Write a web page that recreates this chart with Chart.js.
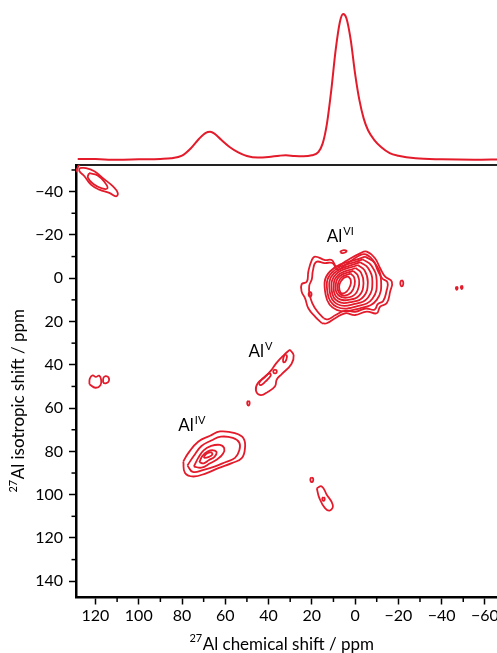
<!DOCTYPE html>
<html><head><meta charset="utf-8">
<script src="https://cdn.jsdelivr.net/npm/chart.js@4.4.1/dist/chart.umd.min.js"></script>
<style>
html,body{margin:0;padding:0;background:#fff;overflow:hidden}
#wrap{position:relative;width:497px;height:653px}
canvas{position:absolute;left:0;top:0}
</style></head><body>
<div id="wrap">
<canvas id="main" width="497" height="653"></canvas>
<canvas id="spec" width="497" height="165"></canvas>
</div>
<script>
const RED = '#e31b2b';
const FONT = 'Lato, "DejaVu Sans", sans-serif';

// ---- axis ticks ----
const xTicks = [120, 100, 80, 60, 40, 20, 0, -20, -40, -60];
const xMinor = [110, 90, 70, 50, 30, 10, -10, -30, -50];
const yTicks = [-40, -20, 0, 20, 40, 60, 80, 100, 120, 140];
const yMinor = [-50, -30, -10, 10, 30, 50, 70, 90, 110, 130];

// ---- axis titles (isotope superscript + text) ----
const xTitleSup = '27', xTitleText = 'Al chemical shift / ppm';
const yTitleSup = '27', yTitleText = 'Al isotropic shift / ppm';

// ---- 1D projection (top) ----
const specPpm = [128.2,120,110,100,90,85,80,76,72,69,67,65,62,58,54,50,45,40,35,32,28,24,20,17,15,13,11,9,7,5.5,4,2,0,-2,-4,-6,-9,-12,-16,-20,-28,-40,-55,-67];
const specInt = [0.3,0.2,-0.3,0,0.3,0.7,2.5,7.4,14.3,18.2,18.9,17.7,13.6,8.5,4.8,2.3,1.2,1.6,2.5,2.8,2.3,2.1,2.8,5.0,10.8,24.6,47.6,75,94.7,100,97,82,59,40.7,28,20,13.1,8.5,4.3,2.5,0.7,0,-0.3,0];

// ---- contours [chemical shift, isotropic shift] ----
const alVIRings = [
 [[3.1,-0.8],[2.0,0.8],[2.2,3.4],[3.9,6.2],[6.2,7.0],[7.2,5.4],[7.2,2.8],[5.4,0.0]],
 [[2.0,-2.1],[0.4,-0.3],[0.2,3.0],[1.9,6.7],[5.0,8.0],[7.4,6.7],[8.1,3.5],[6.3,-0.4]],
 [[0.9,-3.4],[-1.2,-1.4],[-1.9,2.7],[-0.1,7.3],[3.8,9.0],[7.6,8.0],[9.0,4.2],[7.2,-0.9]],
 [[-0.2,-4.7],[-2.8,-2.5],[-3.9,2.3],[-2.1,7.8],[2.6,9.9],[7.8,9.4],[9.9,4.9],[8.0,-1.3]],
 [[-1.3,-6.1],[-4.4,-3.6],[-5.9,1.9],[-4.0,8.4],[1.3,10.9],[7.9,10.7],[10.8,5.6],[8.9,-1.8]],
 [[-2.4,-7.4],[-6.0,-4.7],[-8.0,1.5],[-6.0,8.9],[0.1,11.9],[8.1,12.0],[11.7,6.3],[9.8,-2.2]],
 [[-3.5,-8.7],[-7.6,-5.8],[-10.0,1.2],[-8.0,9.5],[-1.1,12.9],[8.3,13.3],[12.7,7.0],[10.7,-2.6]],
 [[-4.6,-10.0],[-9.2,-6.9],[-12.0,0.8],[-10.0,10.0],[-2.3,13.9],[8.5,14.6],[13.6,7.7],[11.6,-3.1]]
];
const alVIOuter = [
 [[15.4,20.8],[18.5,17.7],[21.6,13.9],[23.1,9.3],[24.7,6.2],[24.7,2.8],[22.3,1.6],[21.6,-3.1],[20.0,-8.4],[18.5,-10.0],[13.9,-8.4],[10.8,-8.4],[8.5,-5.4],[4.6,-7.7],[-2.3,-11.5],[-5.4,-12.3],[-9.2,-9.2],[-11.6,-4.6],[-13.9,-0.7],[-17.0,1.6],[-16.2,6.2],[-14.6,11.6],[-11.6,13.1],[-10.0,16.2],[-5.4,15.4],[0.0,17.0],[4.6,16.2],[9.2,18.5],[13.1,20.8]],
 [[14.5,18.5],[17.5,15.3],[19.8,11.5],[21.0,7.5],[21.2,3.5],[20.0,0.5],[19.5,-3.5],[18.0,-7.5],[14.0,-7.0],[10.5,-7.0],[8.0,-4.0],[4.0,-6.5],[-2.0,-10.5],[-5.0,-11.0],[-8.5,-8.0],[-10.5,-3.5],[-12.5,0],[-15.0,2.0],[-14.5,6.0],[-13.0,10.5],[-10.5,12.0],[-9.0,14.5],[-5.0,14.0],[0.0,15.5],[4.5,15.0],[9.0,17.0],[12.5,19.0]]
];
const alVISmall = [
 [[6.8,-11.9],[5.6,-11.6],[4.2,-12.1],[4.0,-12.7],[5.2,-13.0],[6.6,-12.5]],
 [[20.8,6.2],[20.2,6.9],[20.2,7.9],[20.8,8.5],[21.4,7.9],[21.4,6.9]],
 [[-21.6,0.8],[-22.2,1.6],[-22.2,3.0],[-21.6,3.8],[-21.0,3.0],[-21.0,1.6]],
 [[-47,3.8],[-47.35,4.3],[-47.35,4.9],[-47,5.4],[-46.65,4.9],[-46.65,4.3]],
 [[-49.3,3.4],[-49.65,3.9],[-49.65,4.5],[-49.3,5.0],[-48.95,4.5],[-48.95,3.9]]
];
const alVRings = [
 [[30.1,33.0],[28.4,35.6],[29.4,39.6],[33.9,44.3],[36.2,46.8],[37.0,49.9],[40.2,52.4],[43.6,54.0],[45.8,52.0],[45.0,48.5],[41.8,45.8],[38.8,42.6],[36.4,39.2],[33.0,35.6]],
 [[44.5,48.8],[43.5,49.4],[41.5,47.8],[39.0,45.0],[39.5,44.0],[41.5,45.3],[43.5,47.2]],
 [[37,42.2],[36.3,42.6],[36.3,43.6],[37,44],[37.7,43.6],[37.7,42.6]],
 [[31.8,35.2],[31.5,36.4],[32.2,38.5],[33,38.8],[33.3,37.6],[32.6,35.5]],
 [[49.3,56.6],[48.8,57.2],[48.8,58.2],[49.3,58.8],[49.8,58.2],[49.8,57.2]]
];
const alIVRings = [
 [[79.4,84.7],[77.1,80.8],[72.4,75.4],[67.0,72.8],[62.4,70.8],[55.5,71.6],[51.6,73.9],[50.9,78.5],[52.4,83.1],[57.0,85.4],[63.2,87.7],[68.6,90.0],[74.7,91.6],[78.6,90.0]],
 [[77.5,86.5],[74.5,82],[71,77.5],[66.5,75],[62,73.2],[56.5,73.8],[53.5,76],[53.5,79.5],[55.5,83],[60,85],[65,87],[70,88.5],[75,89.5]],
 [[74.5,87],[72.5,83],[70,79.5],[66.5,77.5],[62.5,77],[60.5,78.5],[61,81],[63.5,83.5],[67,85.5],[71,87.5]],
 [[72,85],[70.5,82],[68,80],[65.5,79.5],[64,80.5],[65,82.5],[67.5,84],[70,85.5]],
 [[70,82.5],[68.5,81],[66.5,80.5],[66,81.5],[67.5,82.5],[69.5,83]]
];
const topLeftRings = [
 [[127.4,-50.9],[124.4,-50.9],[120.5,-49.4],[116.7,-46.3],[112.0,-42.5],[109.7,-39.4],[110.5,-37.8],[113.6,-39.4],[118.2,-40.9],[122.1,-43.2],[125.1,-47.1],[127.4,-49.4]],
 [[123,-48.5],[119,-47.5],[115.5,-44],[114.5,-41.5],[117,-41.5],[121,-43.5],[123.5,-46.5]]
];
const topLeftOpen = [[129.5,-48.5],[127.5,-52.5]];
const leftRings = [
 [[122.8,49.0],[122.6,46.3],[121.3,44.9],[119.8,45.6],[118.3,45.0],[117.4,46.8],[117.7,49.4],[120.0,50.6]],
 [[116.5,48.3],[116.3,46.0],[115.3,45.2],[114.0,45.8],[113.8,47.5],[115.0,48.5]]
];
const bottomRings = [
 [[20,92],[19.4,92.6],[19.4,93.6],[20,94.2],[20.6,93.6],[20.6,92.6]],
 [[17.7,97.0],[15.4,96.2],[13.1,100.0],[10.3,104.7],[11.6,107.3],[13.9,106.2],[16.5,101.6]],
 [[14.6,101.1],[14.1,101.6],[14.1,102.4],[14.6,102.9],[15.1,102.4],[15.1,101.6]]
];

// ---- peak labels ----
const peakLabels = ['Al', 'Al', 'Al'];
const peakSups = ['VI', 'V', 'IV'];
const labelX = [13.1, 49.3, 81.7];
const labelY = [-16.9, 36.2, 70.8];

function ringDataset(pts, closed) {
  const d = pts.map(p => ({x: p[0], y: p[1]}));
  if (closed) d.push({x: pts[0][0], y: pts[0][1]});
  return {data: d, showLine: true, borderColor: RED, borderWidth: 1.8, pointRadius: 0, tension: 0.45, fill: false};
}
const allClosed = [].concat(alVIRings, alVIOuter, alVISmall, alVRings, alIVRings, topLeftRings, leftRings, bottomRings);
const datasets = allClosed.map(r => ringDataset(r, true));
datasets.push(ringDataset(topLeftOpen, false));

const fmt = v => v < 0 ? '\u2212' + Math.abs(v) : String(v);

function supText(ctx, sup, text, x, y, big, small, raise) {
  ctx.font = small + 'px ' + FONT;
  ctx.fillText(sup, x, y - raise);
  const w = ctx.measureText(sup).width;
  ctx.font = big + 'px ' + FONT;
  ctx.fillText(text, x + w + 0.5, y);
}

const extras = {
  id: 'extras',
  afterDraw(chart) {
    const ctx = chart.ctx, xs = chart.scales.x, ys = chart.scales.y, ca = chart.chartArea;
    ctx.save();
    ctx.strokeStyle = '#000'; ctx.lineWidth = 1.5;
    xMinor.forEach(v => { const p = xs.getPixelForValue(v); ctx.beginPath(); ctx.moveTo(p, ca.bottom); ctx.lineTo(p, ca.bottom + 4.5); ctx.stroke(); });
    yMinor.forEach(v => { const p = ys.getPixelForValue(v); ctx.beginPath(); ctx.moveTo(ca.left, p); ctx.lineTo(ca.left - 4.5, p); ctx.stroke(); });
    ctx.fillStyle = '#000'; ctx.textBaseline = 'alphabetic'; ctx.textAlign = 'left';
    peakLabels.forEach((t, i) => {
      const px = xs.getPixelForValue(labelX[i]), py = ys.getPixelForValue(labelY[i]);
      ctx.font = '17px ' + FONT; ctx.fillText(t, px, py);
      const w = ctx.measureText(t).width;
      ctx.font = '11px ' + FONT; ctx.fillText(peakSups[i], px + w + 1, py - 7);
    });
    // x axis title, centred under the plot area
    ctx.font = '11px ' + FONT; const ws = ctx.measureText(xTitleSup).width;
    ctx.font = '17px ' + FONT; const wt = ctx.measureText(xTitleText).width;
    const cx = (ca.left + ca.right) / 2 - 5;
    supText(ctx, xTitleSup, xTitleText, cx - (ws + wt) / 2, 649.5, 17, 11, 7.5);
    // y axis title, rotated
    ctx.font = '11px ' + FONT; const ws2 = ctx.measureText(yTitleSup).width;
    ctx.font = '17px ' + FONT; const wt2 = ctx.measureText(yTitleText).width;
    ctx.translate(24, 401 + (ws2 + wt2) / 2);
    ctx.rotate(-Math.PI / 2);
    supText(ctx, yTitleSup, yTitleText, 0, 0, 17, 11, 7);
    ctx.restore();
  }
};

new Chart(document.getElementById('main'), {
  type: 'scatter',
  data: {datasets: datasets},
  options: {
    responsive: false, animation: false,
    layout: {padding: {top: 165, right: 0, left: 0, bottom: 0}},
    plugins: {legend: {display: false}, tooltip: {enabled: false}},
    scales: {
      x: {
        type: 'linear', position: 'bottom', reverse: true, min: -65.6, max: 129,
        afterBuildTicks: s => { s.ticks = xTicks.map(v => ({value: v})); },
        afterFit: s => { s.height = 55.5; s.paddingLeft = 0; s.paddingRight = 0; },
        ticks: {callback: fmt, color: '#000', font: {family: FONT, size: 16}, padding: 2, autoSkip: false, maxRotation: 0},
        grid: {drawOnChartArea: false, drawTicks: true, tickLength: 7, tickColor: '#000', tickWidth: 1.5},
        border: {display: true, color: '#000', width: 2.5}
      },
      xTop: {
        type: 'linear', position: 'top', min: 0, max: 1,
        afterFit: s => { s.height = 0; s.paddingLeft = 0; s.paddingRight = 0; },
        ticks: {display: false},
        grid: {drawOnChartArea: false, drawTicks: false},
        border: {display: true, color: '#222', width: 2}
      },
      y: {
        type: 'linear', position: 'left', reverse: true, min: -52.3, max: 147.5,
        afterBuildTicks: s => { s.ticks = yTicks.map(v => ({value: v})); },
        afterFit: s => { s.width = 76; s.paddingTop = 0; s.paddingBottom = 0; },
        ticks: {callback: fmt, color: '#000', font: {family: FONT, size: 16}, padding: 6, autoSkip: false},
        grid: {drawOnChartArea: false, drawTicks: true, tickLength: 7, tickColor: '#000', tickWidth: 1.5},
        border: {display: true, color: '#000', width: 2.5}
      }
    }
  },
  plugins: [extras]
});

new Chart(document.getElementById('spec'), {
  type: 'scatter',
  data: {datasets: [{data: specPpm.map((x, i) => ({x: x, y: specInt[i]})), showLine: true, borderColor: RED, borderWidth: 2, pointRadius: 0, cubicInterpolationMode: 'monotone'}]},
  options: {
    responsive: false, animation: false,
    layout: {padding: {left: 76, right: 0, top: 0, bottom: 0}},
    plugins: {legend: {display: false}, tooltip: {enabled: false}},
    scales: {
      x: {type: 'linear', reverse: true, min: -65.6, max: 129, display: false},
      y: {type: 'linear', min: -3.9, max: 109.6, display: false}
    }
  }
});
</script>
</body></html>
